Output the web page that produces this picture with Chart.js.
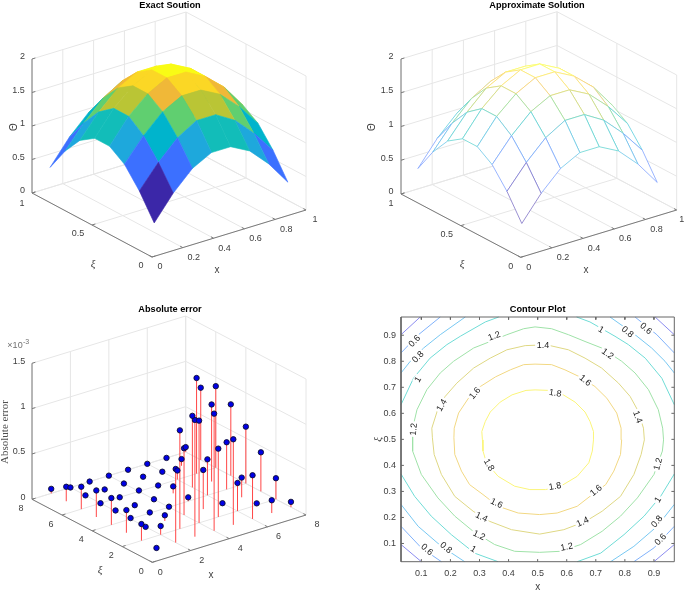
<!DOCTYPE html>
<html><head><meta charset="utf-8">
<style>
html,body{margin:0;padding:0;background:#fff;width:685px;height:594px;overflow:hidden}
canvas{position:absolute;filter:blur(0.35px)}
</style>
<script src="https://cdn.jsdelivr.net/npm/chart.js@4/dist/chart.umd.min.js"></script>
</head><body>
<canvas id="c1" width="340" height="290" style="left:0;top:0"></canvas>
<canvas id="c2" width="340" height="290" style="left:345px;top:0"></canvas>
<canvas id="c3" width="340" height="290" style="left:0;top:304px"></canvas>
<canvas id="c4" width="340" height="290" style="left:345px;top:304px"></canvas>
<script>
// ---------- data ----------
const surfaceX = [0.065,0.189,0.313,0.437,0.561,0.685,0.809,0.933];
const surfaceXi = [0.065,0.189,0.313,0.437,0.561,0.685,0.809,0.933];
const approxX = [0.057,0.181,0.305,0.429,0.553,0.677,0.801,0.925];
const exactTheta = [
 [0.40,0.76,1.04,1.19,1.19,1.04,0.76,0.40],
 [0.76,1.10,1.38,1.55,1.55,1.38,1.10,0.76],
 [1.04,1.38,1.65,1.80,1.80,1.65,1.38,1.04],
 [1.19,1.55,1.80,1.95,1.95,1.80,1.55,1.19],
 [1.19,1.55,1.80,1.95,1.95,1.80,1.55,1.19],
 [1.04,1.38,1.65,1.80,1.80,1.65,1.38,1.04],
 [0.76,1.10,1.38,1.55,1.55,1.38,1.10,0.76],
 [0.40,0.76,1.04,1.19,1.19,1.04,0.76,0.40]];
const approxTheta = [
 [0.40,0.76,1.04,1.19,1.19,1.04,0.76,0.40],
 [0.76,1.10,1.38,1.55,1.55,1.38,1.10,0.76],
 [1.04,1.38,1.65,1.80,1.80,1.65,1.38,1.04],
 [1.19,1.55,1.80,1.95,1.95,1.80,1.55,1.19],
 [1.19,1.55,1.80,1.95,1.95,1.80,1.55,1.19],
 [1.04,1.38,1.65,1.80,1.80,1.65,1.38,1.04],
 [0.76,1.10,1.38,1.55,1.55,1.38,1.10,0.76],
 [0.40,0.76,1.04,1.19,1.19,1.04,0.76,0.40]];
const errX = [1,2,3,4,5,6,7,8];
const errXi = [1,2,3,4,5,6,7,8];
const absErrorMilli = [ // rows: xi = 1..8, columns: x = 1..8, in units of 1e-3
 [0.006,0.812,1.288,1.292,0.944,0.482,0.141,0.058],
 [0.183,0.096,1.086,1.128,0.754,0.310,0.020,0.232],
 [0.250,0.000,0.062,0.736,0.432,0.000,0.217,0.431],
 [0.296,0.010,0.007,0.005,0.043,0.397,0.520,0.627],
 [0.293,0.007,0.000,0.000,0.077,0.790,0.850,0.786],
 [0.247,0.000,0.000,0.010,0.000,0.100,1.055,0.900],
 [0.160,0.000,0.000,0.000,0.010,0.000,0.074,0.796],
 [0.050,0.000,0.000,0.000,0.000,0.000,0.000,0.054]];
const thetaTicks = [0,0.5,1,1.5,2];
const thetaTickLabels = ['0','0.5','1','1.5','2'];
const unitXTicks = [0,0.2,0.4,0.6,0.8,1];
const unitXTickLabels = ['0','0.2','0.4','0.6','0.8','1'];
const unitXiTicks = [0,0.5,1];
const unitXiTickLabels = ['0','0.5','1'];
const errXTicks = [0,2,4,6,8];
const errXiTicks = [0,2,4,6,8];
const errZTicks = [0,0.5,1,1.5];
const errZTickLabels = ['0','0.5','1','1.5'];
const contourTicks = [0.1,0.2,0.3,0.4,0.5,0.6,0.7,0.8,0.9];
const line18 = [[.692,.498],[.692,.53],[.68,.569],[.663,.605],[.629,.643],[.588,.671],[.54,.688],[.491,.69],[.46,.688],[.412,.671],[.371,.643],[.337,.605],[.32,.569],[.308,.53],[.31,.498],[.312,.455],[.324,.41],[.364,.358],[.421,.32],[.473,.307],[.527,.307],[.579,.32],[.636,.358],[.676,.41],[.688,.455],[.692,.498]];
const line16 = [[.789,.498],[.787,.543],[.772,.601],[.738,.658],[.697,.703],[.645,.74],[.594,.767],[.548,.787],[.491,.789],[.452,.787],[.406,.767],[.355,.74],[.303,.703],[.262,.658],[.228,.601],[.213,.543],[.212,.506],[.215,.442],[.238,.378],[.266,.326],[.312,.288],[.364,.243],[.433,.217],[.507,.211],[.567,.217],[.636,.243],[.688,.288],[.734,.326],[.762,.378],[.785,.442],[.789,.498]];
const line14 = [[.867,.498],[.864,.543],[.845,.61],[.818,.665],[.778,.716],[.72,.774],[.663,.812],[.606,.844],[.543,.86],[.5,.862],[.457,.86],[.394,.844],[.337,.812],[.28,.774],[.222,.716],[.182,.665],[.155,.61],[.136,.543],[.138,.506],[.144,.442],[.169,.365],[.215,.281],[.278,.224],[.335,.185],[.41,.153],[.507,.136],[.59,.153],[.665,.185],[.722,.224],[.785,.281],[.831,.365],[.856,.442],[.867,.498]];
const line12 = [[.933,.498],[.93,.543],[.915,.614],[.881,.691],[.835,.755],[.789,.80],[.72,.851],[.663,.876],[.606,.902],[.548,.925],[.491,.932],[.452,.925],[.394,.902],[.337,.876],[.28,.851],[.211,.80],[.165,.755],[.119,.691],[.085,.614],[.07,.543],[.069,.506],[.071,.455],[.1,.365],[.157,.275],[.215,.205],[.278,.147],[.352,.096],[.421,.07],[.507,.066],[.579,.07],[.648,.096],[.722,.147],[.785,.205],[.843,.275],[.9,.365],[.929,.455],[.933,.498]];
const line10 = [[[.634,.97],[.68,.951],[.766,.896],[.812,.864],[.87,.812],[.927,.735],[.97,.633]],[[.366,.97],[.32,.951],[.234,.896],[.188,.864],[.13,.812],[.073,.735],[.03,.633]],[[.03,.367],[.077,.281],[.134,.205],[.203,.134],[.283,.063],[.364,.03]],[[.97,.367],[.923,.281],[.866,.205],[.797,.134],[.717,.063],[.636,.03]]];
const line08 = [[[.749,.97],[.835,.902],[.892,.851],[.938,.80],[.97,.755]],[[.251,.97],[.165,.902],[.108,.851],[.062,.80],[.03,.755]],[[.03,.25],[.089,.166],[.169,.089],[.249,.03]],[[.97,.25],[.911,.166],[.831,.089],[.751,.03]]];
const line06 = [[[.835,.97],[.91,.902],[.97,.832]],[[.165,.97],[.09,.902],[.03,.832]],[[.03,.166],[.1,.083],[.169,.03]],[[.97,.166],[.9,.083],[.831,.03]]];
const line04 = [[[.904,.97],[.97,.902]],[[.096,.97],[.03,.902]],[[.03,.096],[.1,.03]],[[.97,.096],[.9,.03]]];
const contourLabelText = ['0.6','0.8','1','1.2','1.4','1.2','1','0.8','0.6','1.6','1.4','1.2','1.8','1.6','1.4','1.8','1.8','1.6','1.6','1.4','1.4','1.2','1.2','1','0.8','0.6','1.2','1','0.8','0.6'];
const contourLabelX = [.077,.089,.089,.351,.518,.740,.718,.809,.872,.285,.171,.074,.560,.663,.843,.332,.560,.358,.701,.307,.655,.298,.600,.278,.184,.119,.915,.914,.911,.923];
const contourLabelY = [.877,.816,.730,.896,.860,.828,.921,.912,.925,.677,.631,.539,.677,.726,.586,.402,.319,.254,.303,.201,.182,.131,.086,.077,.083,.076,.405,.268,.184,.115];
const contourLabelAngle = [-45,-45,-60,-20,0,35,30,40,40,-50,-60,-85,10,40,70,60,-10,25,-40,25,-25,25,-10,30,40,40,-75,-60,-50,-45];

// ---------- colours picked from the reference surface ----------
const mapZ = [0.40,0.76,1.04,1.10,1.19,1.38,1.55,1.65,1.80,1.95];
const mapRGB = [[59,39,168],[60,112,255],[30,168,220],[0,180,204],[18,189,185],[96,207,112],[186,197,53],[240,184,56],[251,215,37],[249,251,21]];
function colourAt(z){
  let k=0; while(k<mapZ.length-2 && z>mapZ[k+1]) k++;
  const t=Math.max(0,Math.min(1,(z-mapZ[k])/(mapZ[k+1]-mapZ[k])));
  return mapRGB[k].map((c,n)=>c+(mapRGB[k+1][n]-c)*t);
}
const css=c=>`rgb(${c.map(Math.round).join(',')})`;
const lighten=(c,f)=>c.map(v=>v+(255-v)*f);
const meshLine=z=>css(lighten(colourAt(z),0.35));

// ---------- helpers ----------
const GAP={x:NaN,y:NaN};
function view(front,xEnd,xiEnd,zHeight,xMax,xiMax,zMax){
  return (x,xi,z)=>({
    x:front[0]+x/xMax*(xEnd[0]-front[0])+xi/xiMax*(xiEnd[0]-front[0]),
    y:front[1]+x/xMax*(xEnd[1]-front[1])+xi/xiMax*(xiEnd[1]-front[1])-z/zMax*zHeight});
}
function lineSet(data,color,width,extra){
  return Object.assign({type:'scatter',data,showLine:true,pointRadius:0,borderColor:color,borderWidth:width,fill:false,clip:false,tension:0},extra||{});
}
function frameSets(P,xTicks,xiTicks,zTicks,xMax,xiMax,zMax){
  const g=[],a=[];
  const seg=(arr,p,q)=>arr.push(p,q,GAP);
  zTicks.forEach(z=>{ seg(g,P(0,xiMax,z),P(xMax,xiMax,z)); seg(g,P(xMax,xiMax,z),P(xMax,0,z)); });
  xTicks.forEach(x=>{ seg(g,P(x,0,0),P(x,xiMax,0)); seg(g,P(x,xiMax,0),P(x,xiMax,zMax)); });
  xiTicks.forEach(xi=>{ seg(g,P(0,xi,0),P(xMax,xi,0)); seg(g,P(xMax,xi,0),P(xMax,xi,zMax)); });
  seg(a,P(0,0,0),P(xMax,0,0)); seg(a,P(0,0,0),P(0,xiMax,0)); seg(a,P(0,xiMax,0),P(0,xiMax,zMax));
  xTicks.forEach(x=>seg(a,P(x,0,0),P(x,xiMax*0.022,0)));
  xiTicks.forEach(xi=>seg(a,P(0,xi,0),P(xMax*0.022,xi,0)));
  zTicks.forEach(z=>seg(a,P(0,xiMax,z),P(xMax*0.022,xiMax,z)));
  return [lineSet(a,'#7a7a7a',1),lineSet(g,'#e6e6e6',1)];
}
function faceSets(P,table,xs,xis,fillOf,edgeOf,width){
  const cells=[];
  for(let j=0;j<xis.length-1;j++)for(let i=0;i<xs.length-1;i++)cells.push([i,j]);
  cells.sort((a,b)=>(a[0]+a[1])-(b[0]+b[1]));
  return cells.map(([i,j])=>{
    const z=table[j][i];
    const d=[P(xs[i],xis[j],table[j][i]),P(xs[i+1],xis[j],table[j][i+1]),P(xs[i+1],xis[j+1],table[j+1][i+1]),P(xs[i],xis[j+1],table[j+1][i]),P(xs[i],xis[j],table[j][i])];
    return lineSet(d,edgeOf(z),width,{fill:'shape',backgroundColor:fillOf(z)});
  });
}
const textPlugin=items=>({id:'panelText',afterDraw(chart){
  const c=chart.ctx,sx=chart.scales.x,sy=chart.scales.y;
  items.forEach(o=>{
    c.save();
    c.translate(sx.getPixelForValue(o.x),sy.getPixelForValue(o.y));
    if(o.rot)c.rotate(o.rot*Math.PI/180);
    c.font=o.font||'9px "Liberation Sans"';
    c.textAlign='center';c.textBaseline='middle';
    if(o.bg){const w=c.measureText(o.t).width+3;c.fillStyle='#fff';c.fillRect(-w/2,-4.5,w,9);}
    c.fillStyle=o.color||'#404040';
    c.fillText(o.t,0,0);
    c.restore();
  });
}});
function titleOpt(text,bottom){
  return {display:true,text,color:'#000',fullSize:false,font:{family:'"Liberation Sans"',size:9.2,weight:'bold',lineHeight:1.196},padding:{top:0,bottom:bottom||0}};
}
function base3d(title,left,top,w,h,padL){
  return {responsive:false,animation:false,events:[],
    layout:{autoPadding:false,padding:{left:padL||0,right:0,top:0,bottom:0}},
    plugins:{legend:{display:false},tooltip:{enabled:false},title:titleOpt(title)},
    scales:{
      x:{type:'linear',display:false,min:left+(padL||0),max:left+w},
      y:{type:'linear',display:false,reverse:true,min:top+11,max:top+h}}};
}
const THETA='Θ', XI='ξ';
const XIFONT='italic 11px "Liberation Serif"';
const AXFONT='10px "Liberation Sans"';

// ---------- panel 1: exact solution ----------
const P1=view([152,257],[306,210],[32,193],134,1,1,2);
const texts1=[
 ...thetaTicks.map((z,k)=>({t:thetaTickLabels[k],x:k%2?18.5:22.5,y:P1(0,1,z).y-2})),
 ...unitXTicks.map((x,k)=>({t:unitXTickLabels[k],x:P1(x,0,0).x+(k==0?8:k==5?9:11),y:P1(x,0,0).y+10})),
 ...unitXiTicks.map((xi,k)=>({t:unitXiTickLabels[k],x:P1(0,xi,0).x+[-11,-14,-10][k],y:P1(0,xi,0).y+[9,9,11][k]})),
 {t:THETA,x:14,y:127,rot:-90,font:AXFONT},
 {t:XI,x:93,y:264,font:XIFONT},
 {t:'x',x:217,y:270,font:AXFONT}];
new Chart('c1',{type:'scatter',plugins:[textPlugin(texts1)],
 data:{datasets:[
  ...faceSets(P1,exactTheta,surfaceX,surfaceXi,z=>css(colourAt(z)),z=>css(colourAt(z)),0.6),
  ...frameSets(P1,unitXTicks,unitXiTicks,thetaTicks,1,1,2)]},
 options:base3d('Exact Soution',0,0,340,290)});

// ---------- panel 2: approximate solution ----------
const P2=view([520.7,257.3],[676.7,210],[401,194],135,1,1,2);
const texts2=[
 ...thetaTicks.map((z,k)=>({t:thetaTickLabels[k],x:k%2?387:391,y:P2(0,1,z).y-2})),
 ...unitXTicks.map((x,k)=>({t:unitXTickLabels[k],x:P2(x,0,0).x+(k==0?8:k==5?5:11),y:P2(x,0,0).y+10})),
 ...unitXiTicks.map((xi,k)=>({t:unitXiTickLabels[k],x:P2(0,xi,0).x+[-10,-14,-10][k],y:P2(0,xi,0).y+[9,9,10][k]})),
 {t:THETA,x:372,y:127,rot:-90,font:AXFONT},
 {t:XI,x:462,y:264,font:XIFONT},
 {t:'x',x:586,y:270,font:AXFONT}];
new Chart('c2',{type:'scatter',plugins:[textPlugin(texts2)],
 data:{datasets:[
  ...faceSets(P2,approxTheta,approxX,surfaceXi,()=>'#ffffff',meshLine,0.8),
  ...frameSets(P2,unitXTicks,unitXiTicks,thetaTicks,1,1,2)]},
 options:base3d('Approximate Solution',345,0,340,290,44)});

// ---------- panel 3: absolute error ----------
const P3=view([152.3,562.3],[306,515],[32,499.3],136,8,8,1.5);
const stems=[],tops=[];
errXi.forEach((xi,j)=>errX.forEach((x,i)=>{
  const z=absErrorMilli[j][i];
  stems.push(P3(x,xi,0),P3(x,xi,z),GAP);
  tops.push(P3(x,xi,z));
}));
const texts3=[
 ...errZTicks.map((z,k)=>({t:errZTickLabels[k],x:k%2?19:23,y:P3(0,8,z).y-2})),
 ...errXTicks.map(x=>({t:String(x),x:P3(x,0,0).x+(x==0?8:11),y:P3(x,0,0).y+10})),
 ...errXiTicks.map(xi=>({t:String(xi),x:P3(0,xi,0).x-11,y:P3(0,xi,0).y+9})),
 {t:'×10',x:15,y:345.5,color:'#707070'},
 {t:'-3',x:26,y:342,font:'7px "Liberation Sans"',color:'#707070'},
 {t:'Absolute error',x:5,y:432,rot:-90,font:'11px "Liberation Serif"',color:'#505050'},
 {t:XI,x:100,y:570,font:XIFONT},
 {t:'x',x:211,y:575,font:AXFONT}];
new Chart('c3',{type:'scatter',plugins:[textPlugin(texts3)],
 data:{datasets:[
  {type:'scatter',data:tops,showLine:false,pointRadius:2.7,pointBorderWidth:0.9,pointBackgroundColor:'#0000e6',pointBorderColor:'#101030',clip:false},
  lineSet(stems,'rgb(255,70,70)',1),
  ...frameSets(P3,errXTicks,errXiTicks,errZTicks,8,8,1.5)]},
 options:base3d('Absolute error',0,304,340,290)});

// ---------- panel 4: contour plot ----------
const toPts=(...parts)=>{const o=[];parts.forEach(p=>{p.forEach(q=>o.push({x:q[0],y:q[1]}));o.push(GAP);});return o;};
const contourSets=[
 [line18,'#fbf57a'],[line16,'#f2d883'],[line14,'#dfd884'],[line12,'#9fe2a8']
].map(([l,c])=>lineSet(toPts(l),c,1));
[[line10,'#6fdcd6'],[line08,'#78c8f2'],[line06,'#80b2fb'],[line04,'#8c8cf0']].forEach(([l,c])=>contourSets.push(lineSet(toPts(...l),c,1)));
const boxX=[.03,.97,.97,.03,.03], boxY=[.03,.03,.97,.97,.03];
const tickPts=[];
contourTicks.forEach(v=>{
  tickPts.push({x:v,y:.03},{x:v,y:.04},GAP,{x:v,y:.97},{x:v,y:.96},GAP,{x:.03,y:v},{x:.04,y:v},GAP,{x:.97,y:v},{x:.96,y:v},GAP);
});
const texts4=contourLabelText.map((t,k)=>({t,x:contourLabelX[k],y:contourLabelY[k],rot:contourLabelAngle[k],bg:true,color:'#222'}));
new Chart('c4',{type:'scatter',plugins:[textPlugin(texts4)],
 data:{datasets:[
  lineSet(boxX.map((x,k)=>({x,y:boxY[k]})),'#666666',1),
  lineSet(tickPts,'#666666',1),
  ...contourSets]},
 options:{responsive:false,animation:false,events:[],
  layout:{autoPadding:false,padding:{left:0,right:10.7,top:0,bottom:0}},
  plugins:{legend:{display:false},tooltip:{enabled:false},title:titleOpt('Contour Plot',2)},
  scales:{
   x:{type:'linear',min:.03,max:.97,
      afterFit(s){s.height=32.3;},
      afterBuildTicks(s){s.ticks=contourTicks.map(value=>({value}));},
      grid:{display:false,drawTicks:false},border:{display:false},
      ticks:{padding:6,color:'#404040',maxRotation:0,autoSkip:false,font:{family:'"Liberation Sans"',size:9},callback:v=>v.toFixed(1)},
      title:{display:true,text:'x',color:'#404040',padding:{top:3,bottom:1},font:{family:'"Liberation Sans"',size:10}}},
   y:{type:'linear',min:.03,max:.97,
      afterFit(s){s.width=56;},
      afterBuildTicks(s){s.ticks=contourTicks.map(value=>({value}));},
      grid:{display:false,drawTicks:false},border:{display:false},
      ticks:{padding:5,color:'#404040',autoSkip:false,font:{family:'"Liberation Sans"',size:9},callback:v=>v.toFixed(1)},
      title:{display:true,text:'ξ',color:'#404040',padding:{top:27,bottom:0},font:{family:'"Liberation Serif"',size:11,style:'italic'}}}}}});
</script>
</body></html>
